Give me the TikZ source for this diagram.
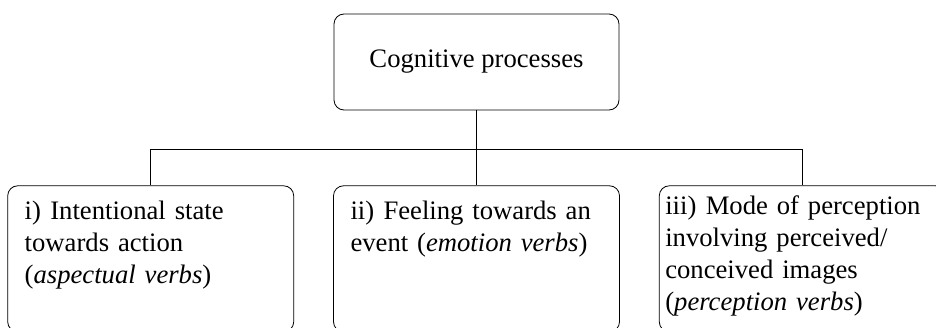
\documentclass[tikz,border=0pt]{standalone}
\usepackage{fontspec}
\setmainfont{Liberation Serif}
\usetikzlibrary{positioning}

\tikzset{
	box/.style={draw, line width=0.6pt, rounded corners=7.5pt},
	leaf/.style={box, align=left, text width=189pt, inner xsep=12.75pt,
		inner ysep=10.5pt, text height=15pt, text depth=73.5pt},
}

\begin{document}
\begin{tikzpicture}[x=0.75pt, y=-0.75pt, font=\fontsize{20}{24}\selectfont]
	\clip (0,0) rectangle (936,328);

	\node[box, minimum width=213.75pt, minimum height=72pt] (top) at (476.5,62) {Cognitive processes};
	\node[leaf, below=56.25pt of top] (mid) {ii)\hspace{0.35em}Feeling towards an\\event (\textit{emotion verbs})};
	\node[leaf, left=29.25pt of mid] (lft) {i)\hspace{0.35em}Intentional state\\towards action\\(\textit{aspectual verbs})};
	\node[leaf, right=29.25pt of mid, text width=205.5pt, inner xsep=4.5pt,
		inner ysep=6.75pt, text depth=81pt] (rgt)
		{iii)\hspace{0.35em}Mode of perception\\involving perceived/\\conceived images\\(\textit{perception verbs})};

	\draw[line width=0.6pt]
		(top) -- (mid)
		(lft.north) -- ++(0,-36) -| (rgt.north);
\end{tikzpicture}
\end{document}
